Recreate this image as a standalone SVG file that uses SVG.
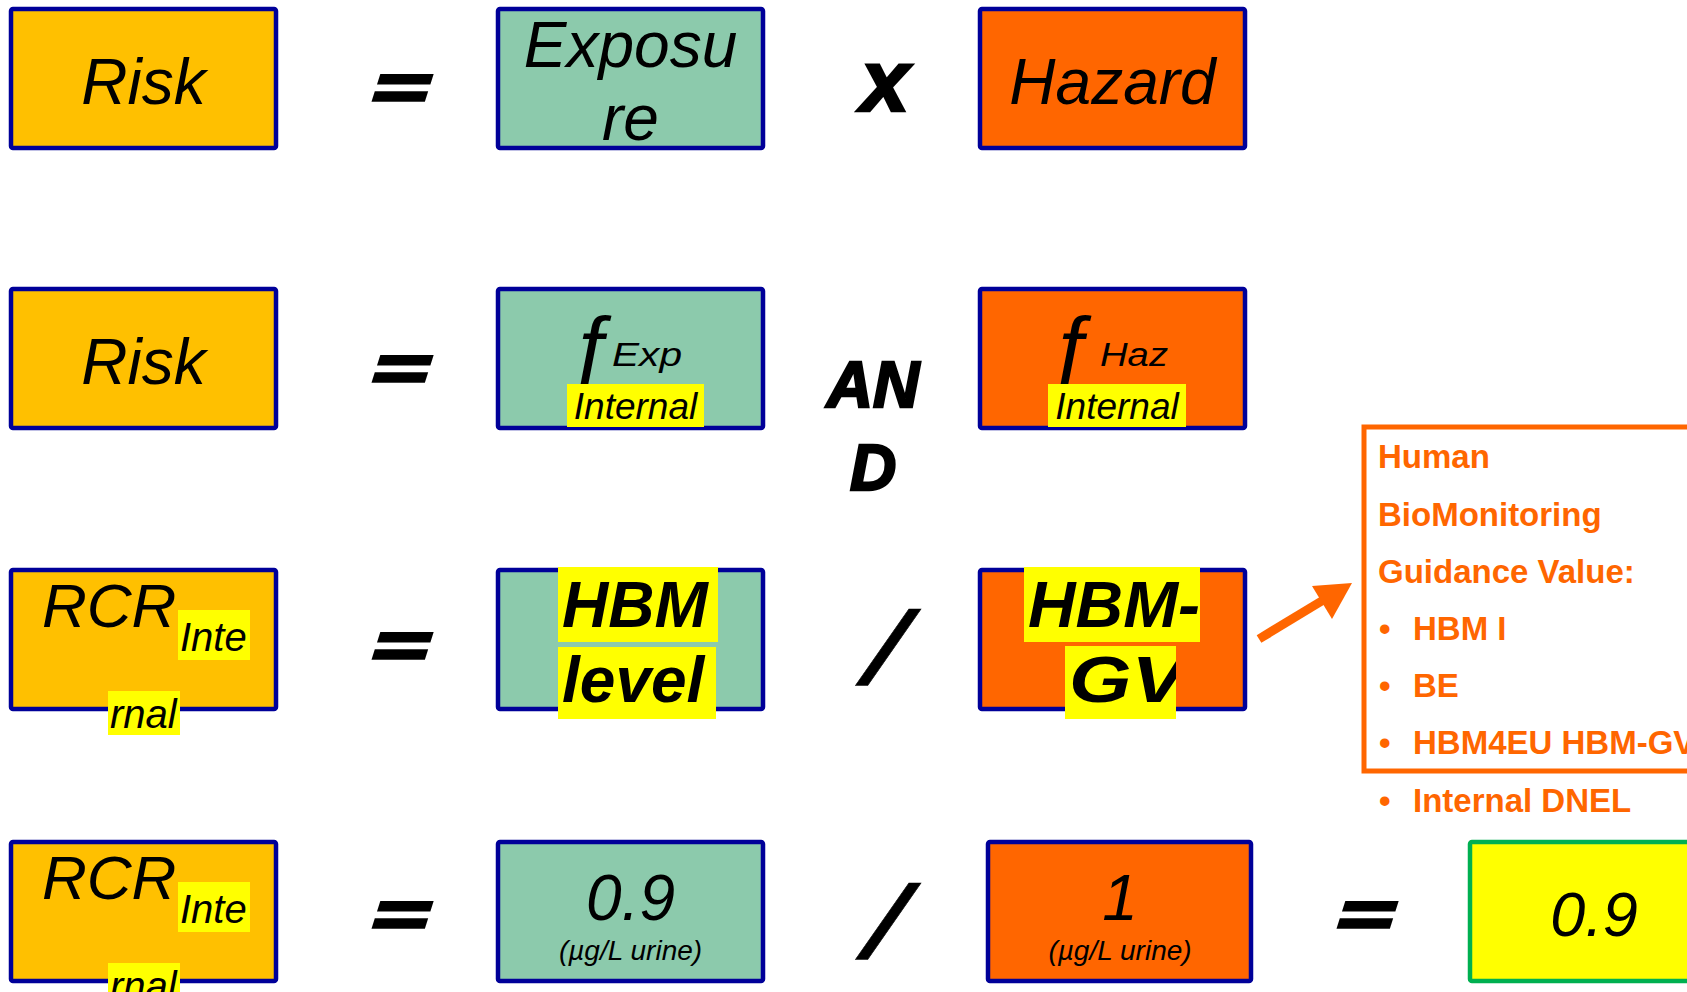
<svg xmlns="http://www.w3.org/2000/svg" width="1687" height="992" viewBox="0 0 1687 992">
<style>
.box{stroke:#000099;stroke-width:4.5}
.risk{fill:#FFC000}
.exp{fill:#8CCAAC}
.haz{fill:#FF6600}
.hl{fill:#FFFF00}
.t{font-family:"Liberation Sans",Arial,sans-serif;font-style:italic;fill:#000}
.big{font-size:64px}
.b{font-weight:bold}
.op{font-family:"Liberation Sans",Arial,sans-serif;font-style:italic;font-weight:bold;fill:#000;text-anchor:middle}
.heavy{stroke:#000;stroke-width:2.5}
.eq{font-size:64px;stroke:#000;stroke-width:3.5;stroke-linejoin:miter}
.sl{font-family:"Liberation Sans",Arial,sans-serif;font-style:italic;fill:#000;text-anchor:middle;font-size:104px;stroke:#000;stroke-width:0.5}
.m{text-anchor:middle}
.co{font-family:"Liberation Sans",Arial,sans-serif;font-weight:bold;font-size:33px;fill:#FF6600}
</style>
<defs>
<clipPath id="cgv"><rect x="1065" y="646" width="111" height="73"/></clipPath>
<clipPath id="chbm"><rect x="1024" y="567" width="176" height="75"/></clipPath>
<clipPath id="clev"><rect x="558" y="647" width="158" height="72"/></clipPath>
</defs>
<rect width="1687" height="992" fill="#fff"/>

<!-- Row 1 -->
<g id="risk1"><rect class="box risk" x="11" y="9" width="265" height="139" rx="2"/><text class="t big m" x="143.5" y="104">Risk</text></g>
<g id="eq1"><text class="op eq" transform="translate(394,109) scale(1.5,1) skewX(-12)" x="0" y="0">=</text></g>
<g id="exposure1"><rect class="box exp" x="498" y="9" width="265" height="139" rx="2"/><text class="t big m" x="630.5" y="67">Exposu</text><text class="t big m" x="630.5" y="140">re</text></g>
<g id="times1"><text class="op heavy" x="885" y="111" font-size="88px">x</text></g>
<g id="hazard1"><rect class="box haz" x="980" y="9" width="265" height="139" rx="2"/><text class="t big m" x="1112.5" y="104">Hazard</text></g>

<!-- Row 2 -->
<g id="risk2"><rect class="box risk" x="11" y="289" width="265" height="139" rx="2"/><text class="t big m" x="143.5" y="384">Risk</text></g>
<g id="eq2"><text class="op eq" transform="translate(394,390) scale(1.5,1) skewX(-12)" x="0" y="0">=</text></g>
<g id="fexp"><rect class="box exp" x="498" y="289" width="265" height="139" rx="2"/>
<text class="t" x="566" y="377" font-size="88px">ƒ</text><text class="t" x="612" y="366" font-size="34px" textLength="70" lengthAdjust="spacingAndGlyphs">Exp</text>
<rect class="hl" x="567" y="384" width="137" height="43"/><text class="t m" x="635.5" y="419" font-size="37px">Internal</text></g>
<g id="and"><text class="op heavy" x="873" y="407" font-size="64px">AN</text><text class="op heavy" x="873" y="490" font-size="64px">D</text></g>
<g id="fhaz"><rect class="box haz" x="980" y="289" width="265" height="139" rx="2"/>
<text class="t" x="1046" y="377" font-size="88px">ƒ</text><text class="t" x="1100" y="366" font-size="34px" textLength="68" lengthAdjust="spacingAndGlyphs">Haz</text>
<rect class="hl" x="1048" y="384" width="138" height="43"/><text class="t m" x="1117" y="419" font-size="37px">Internal</text></g>

<!-- Row 3 -->
<g id="rcr3"><rect class="box risk" x="11" y="570" width="265" height="139" rx="2"/>
<text class="t" x="42" y="627" font-size="62px">RCR</text>
<rect class="hl" x="178" y="610" width="72" height="50"/><text class="t" x="180" y="651" font-size="40px">Inte</text>
<rect class="hl" x="108" y="691" width="72" height="44"/><text class="t" x="110" y="728" font-size="40px">rnal</text></g>
<g id="eq3"><text class="op eq" transform="translate(394,667) scale(1.5,1) skewX(-12)" x="0" y="0">=</text></g>
<g id="hbmlevel"><rect class="box exp" x="498" y="570" width="265" height="139" rx="2"/>
<rect class="hl" x="558" y="567" width="160" height="75"/><text class="t b" x="562" y="627" font-size="64px">HBM</text>
<rect class="hl" x="558" y="647" width="158" height="72"/><text class="t b" x="562" y="702" font-size="64px" clip-path="url(#clev)">level</text></g>
<g id="div3"><text class="sl" transform="translate(886,684) scale(1.5,1)" x="0" y="0">/</text></g>
<g id="hbmgv"><rect class="box haz" x="980" y="570" width="265" height="139" rx="2"/>
<rect class="hl" x="1024" y="567" width="176" height="75"/><text class="t b" x="1028" y="627" font-size="64px" textLength="172" lengthAdjust="spacingAndGlyphs" clip-path="url(#chbm)">HBM-</text>
<rect class="hl" x="1065" y="646" width="111" height="73"/><text class="t b" x="1069" y="702" font-size="64px" textLength="116" lengthAdjust="spacingAndGlyphs" clip-path="url(#cgv)">GV</text></g>

<!-- Callout -->
<g id="callout">
<rect x="1364" y="427" width="340" height="344" fill="none" stroke="#FF6600" stroke-width="5"/>
<text class="co" x="1378" y="468">Human</text>
<text class="co" x="1378" y="526">BioMonitoring</text>
<text class="co" x="1378" y="583">Guidance Value:</text>
<text class="co" x="1379" y="640">•</text><text class="co" x="1413" y="640">HBM I</text>
<text class="co" x="1379" y="697">•</text><text class="co" x="1413" y="697">BE</text>
<text class="co" x="1379" y="754">•</text><text class="co" x="1413" y="754">HBM4EU HBM-GV</text>
<text class="co" x="1379" y="812">•</text><text class="co" x="1413" y="812">Internal DNEL</text>
</g>

<!-- Row 4 -->
<g id="rcr4"><rect class="box risk" x="11" y="842" width="265" height="139" rx="2"/>
<text class="t" x="42" y="899" font-size="62px">RCR</text>
<rect class="hl" x="178" y="882" width="72" height="50"/><text class="t" x="180" y="923" font-size="40px">Inte</text>
<rect class="hl" x="108" y="963" width="72" height="44"/><text class="t" x="110" y="1000" font-size="40px">rnal</text></g>
<g id="eq4"><text class="op eq" transform="translate(394,936) scale(1.5,1) skewX(-12)" x="0" y="0">=</text></g>
<g id="val09"><rect class="box exp" x="498" y="842" width="265" height="139" rx="2"/>
<text class="t big m" x="630.5" y="920">0.9</text><text class="t m" x="630.5" y="960" font-size="28px">(µg/L urine)</text></g>
<g id="div4"><text class="sl" transform="translate(886,958) scale(1.5,1)" x="0" y="0">/</text></g>
<g id="val1"><rect class="box haz" x="988" y="842" width="263" height="139" rx="2"/>
<text class="t big m" x="1120" y="920">1</text><text class="t m" x="1120" y="960" font-size="28px">(µg/L urine)</text></g>
<g id="eq5"><text class="op eq" transform="translate(1359,936) scale(1.5,1) skewX(-12)" x="0" y="0">=</text></g>
<g id="result"><rect x="1470" y="842" width="250" height="139" fill="#FFFF00" stroke="#00B050" stroke-width="4.5" rx="2"/>
<text class="t m" x="1594" y="936" font-size="63px">0.9</text></g>

<!-- Connectors -->
<g id="connectors">
<line x1="1259" y1="639" x2="1325" y2="599" stroke="#FF6600" stroke-width="9"/>
<polygon points="1352,583 1312,586 1332,619" fill="#FF6600"/>
</g>
</svg>
